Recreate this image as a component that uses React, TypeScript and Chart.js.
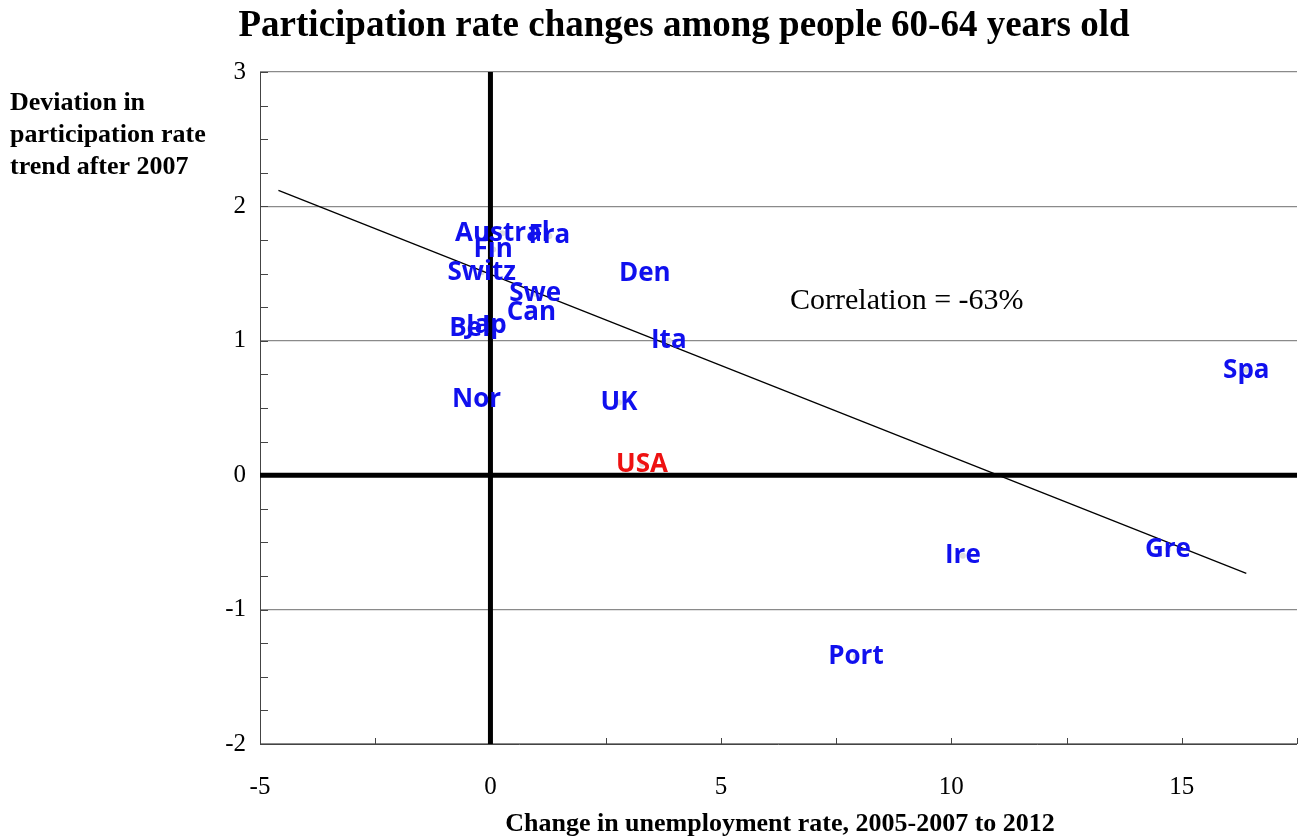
import { useEffect, useRef } from 'react';
import { Chart, registerables } from 'chart.js';

Chart.register(...registerables);

const countries = ['Austral', 'Fra', 'Fin', 'Switz', 'Swe', 'Can', 'Bel', 'Jap', 'Nor', 'Den', 'Ita', 'UK', 'USA', 'Spa', 'Ire', 'Gre', 'Port'];
const unemploymentChange = [0.26, 1.28, 0.06, -0.19, 0.97, 0.89, -0.45, -0.09, -0.3, 3.35, 3.87, 2.79, 3.29, 16.4, 10.25, 14.7, 7.93];
const participationDev = [1.8, 1.78, 1.68, 1.51, 1.35, 1.21, 1.09, 1.11, 0.56, 1.5, 1.0, 0.54, 0.08, 0.78, -0.6, -0.55, -1.35];
const trendX = [-4.6, 16.4];
const trendY = [2.12, -0.73];

const serif = '"Liberation Serif", "Times New Roman", serif';

const decor = {
  id: 'decor',
  afterDatasetsDraw(chart: any) {
    const { ctx, scales, chartArea } = chart;
    const x = scales.x, y = scales.y;
    ctx.save();
    // minor / major ticks
    ctx.strokeStyle = '#444';
    ctx.lineWidth = 1;
    for (let v = -2; v <= 3.001; v += 0.25) {
      const py = Math.round(y.getPixelForValue(v)) + 0.5;
      ctx.beginPath();
      ctx.moveTo(chartArea.left, py);
      ctx.lineTo(chartArea.left + 8, py);
      ctx.stroke();
    }
    for (let v = -5; v <= 17.5; v += 2.5) {
      const px = Math.round(x.getPixelForValue(v)) + 0.5;
      ctx.beginPath();
      ctx.moveTo(px, chartArea.bottom);
      ctx.lineTo(px, chartArea.bottom - 6);
      ctx.stroke();
    }
    ctx.beginPath();
    ctx.moveTo(chartArea.left + 0.5, chartArea.top);
    ctx.lineTo(chartArea.left + 0.5, chartArea.bottom);
    ctx.moveTo(chartArea.left, chartArea.bottom + 0.5);
    ctx.lineTo(chartArea.right, chartArea.bottom + 0.5);
    ctx.stroke();
    // thick zero axes
    ctx.strokeStyle = '#000';
    ctx.lineWidth = 5;
    const x0 = x.getPixelForValue(0), y0 = y.getPixelForValue(0);
    ctx.beginPath();
    ctx.moveTo(x0, chartArea.top);
    ctx.lineTo(x0, chartArea.bottom);
    ctx.moveTo(chartArea.left, y0);
    ctx.lineTo(chartArea.right, y0);
    ctx.stroke();
    // country labels
    ctx.font = 'bold 26px "Open Sans", sans-serif';
    ctx.textAlign = 'center';
    ctx.textBaseline = 'middle';
    countries.forEach((c, i) => {
      ctx.fillStyle = c === 'USA' ? '#ee1111' : '#1010ee';
      ctx.fillText(c, x.getPixelForValue(unemploymentChange[i]), y.getPixelForValue(participationDev[i]));
    });
    // text
    ctx.fillStyle = '#000';
    ctx.font = `30px ${serif}`;
    ctx.textAlign = 'left';
    ctx.fillText('Correlation = -63%', 790, 301);
    ctx.font = `bold 37px ${serif}`;
    ctx.textAlign = 'center';
    ctx.fillText('Participation rate changes among people 60-64 years old', 684, 26);
    ctx.font = `bold 26px ${serif}`;
    ctx.fillText('Change in unemployment rate, 2005-2007 to 2012', 780, 824);
    ctx.textAlign = 'left';
    ctx.font = `bold 26px ${serif}`;
    ['Deviation in', 'participation rate', 'trend after 2007'].forEach((t, i) => ctx.fillText(t, 10, 103 + i * 32));
    ctx.restore();
  },
};

export default function App() {
  const ref = useRef<HTMLCanvasElement>(null);
  useEffect(() => {
    if (!ref.current) return;
    const chart = new Chart(ref.current, {
      type: 'scatter',
      data: {
        datasets: [
          {
            data: unemploymentChange.map((v, i) => ({ x: v, y: participationDev[i] })),
            pointRadius: 3,
            pointBackgroundColor: '#dddddd',
            pointBorderWidth: 0,
            order: 2,
          },
          {
            type: 'line',
            data: trendX.map((v, i) => ({ x: v, y: trendY[i] })),
            borderColor: '#000',
            borderWidth: 1.3,
            pointRadius: 0,
            order: 1,
          },
        ],
      },
      options: {
        animation: false,
        responsive: false,
        layout: { padding: { top: 72, right: 1, left: 0, bottom: 0 } },
        plugins: { legend: { display: false }, tooltip: { enabled: false } },
        scales: {
          x: {
            type: 'linear',
            min: -5,
            max: 17.5,
            afterFit: (s: any) => { s.height = 96; },
            afterBuildTicks: (s: any) => { s.ticks = [-5, 0, 5, 10, 15].map((v) => ({ value: v })); },
            grid: { display: false },
            border: { display: false },
            ticks: { color: '#000', font: { family: serif, size: 25 }, padding: 20 },
          },
          y: {
            min: -2,
            max: 3,
            afterFit: (s: any) => { s.width = 260; },
            ticks: { stepSize: 1, color: '#000', font: { family: serif, size: 25 }, padding: 14 },
            grid: { color: '#8a8a8a', lineWidth: 1.3, drawTicks: false },
            border: { display: false },
          },
        },
      },
      plugins: [decor],
    });
    return () => chart.destroy();
  }, []);
  return (
    <div style={{ position: 'fixed', left: 0, top: 0, width: 1301, height: 840, background: '#fff' }}>
      <canvas ref={ref} width={1301} height={840} />
    </div>
  );
}
